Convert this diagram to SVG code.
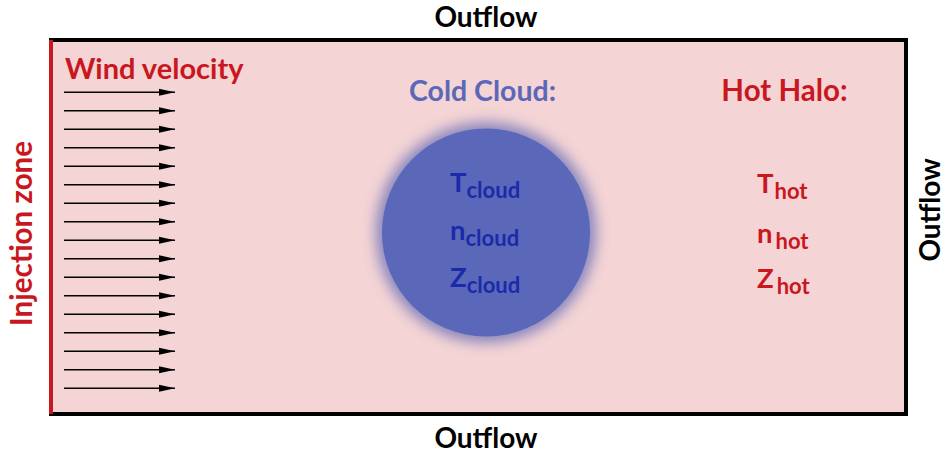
<svg xmlns="http://www.w3.org/2000/svg" width="944" height="453" viewBox="0 0 944 453">
<style>
text{font-family:Lato,"Open Sans","Liberation Sans",sans-serif;font-weight:bold}
.blk{fill:#000;font-size:28px}
.red{fill:#c8171e}
.blu{fill:#1a2aaa}
.var{font-size:27.5px}
.sub{font-size:22px}
.arr{stroke:#000;stroke-width:1.5;fill:none}
</style>
<defs>
<marker id="ah" markerWidth="16" markerHeight="8" refX="16" refY="4" orient="auto" markerUnits="userSpaceOnUse">
<path d="M0,0.5 L16,4 L0,7.5 Z" fill="#000"/>
</marker>
<filter id="glow" x="-30%" y="-30%" width="160%" height="160%">
<feGaussianBlur stdDeviation="7"/>
</filter>
</defs>
<g id="domain">
<rect x="51" y="40" width="855" height="374" fill="#f4d4d5"/>
<path d="M49,40 H906 V414 H49" fill="none" stroke="#000" stroke-width="4"/>
<line x1="51" y1="40" x2="51" y2="414" stroke="#c8171e" stroke-width="4"/>
</g>
<g id="labels">
<text class="blk" x="486" y="27" text-anchor="middle">Outflow</text>
<text class="blk" x="486" y="448" text-anchor="middle">Outflow</text>
<text class="blk" transform="translate(939.5,210) rotate(-90)" text-anchor="middle">Outflow</text>
<text class="red" font-size="29.5" transform="translate(32,233.5) rotate(-90)" text-anchor="middle">Injection zone</text>
<text class="red" font-size="29" x="65" y="79">Wind velocity</text>
</g>
<g id="wind">
<line class="arr" x1="64" y1="92.3" x2="175" y2="92.3" marker-end="url(#ah)"/>
<line class="arr" x1="64" y1="110.8" x2="175" y2="110.8" marker-end="url(#ah)"/>
<line class="arr" x1="64" y1="129.3" x2="175" y2="129.3" marker-end="url(#ah)"/>
<line class="arr" x1="64" y1="147.8" x2="175" y2="147.8" marker-end="url(#ah)"/>
<line class="arr" x1="64" y1="166.3" x2="175" y2="166.3" marker-end="url(#ah)"/>
<line class="arr" x1="64" y1="184.8" x2="175" y2="184.8" marker-end="url(#ah)"/>
<line class="arr" x1="64" y1="203.3" x2="175" y2="203.3" marker-end="url(#ah)"/>
<line class="arr" x1="64" y1="221.8" x2="175" y2="221.8" marker-end="url(#ah)"/>
<line class="arr" x1="64" y1="240.3" x2="175" y2="240.3" marker-end="url(#ah)"/>
<line class="arr" x1="64" y1="258.8" x2="175" y2="258.8" marker-end="url(#ah)"/>
<line class="arr" x1="64" y1="277.3" x2="175" y2="277.3" marker-end="url(#ah)"/>
<line class="arr" x1="64" y1="295.8" x2="175" y2="295.8" marker-end="url(#ah)"/>
<line class="arr" x1="64" y1="314.3" x2="175" y2="314.3" marker-end="url(#ah)"/>
<line class="arr" x1="64" y1="332.8" x2="175" y2="332.8" marker-end="url(#ah)"/>
<line class="arr" x1="64" y1="351.3" x2="175" y2="351.3" marker-end="url(#ah)"/>
<line class="arr" x1="64" y1="369.8" x2="175" y2="369.8" marker-end="url(#ah)"/>
<line class="arr" x1="64" y1="388.3" x2="175" y2="388.3" marker-end="url(#ah)"/>
</g>
<g id="cloud">
<text x="482.5" y="101" text-anchor="middle" font-size="28.5" fill="#5b67b8">Cold Cloud:</text>
<circle cx="486" cy="232.5" r="110" fill="#6b70b8" opacity="0.8" filter="url(#glow)"/>
<circle cx="486" cy="232.5" r="104" fill="#5b67b8"/>
<text class="blu var" x="450" y="192">T<tspan class="sub" dy="6">cloud</tspan></text>
<text class="blu var" x="450" y="240">n<tspan class="sub" dy="6">cloud</tspan></text>
<text class="blu var" x="450" y="287">Z<tspan class="sub" dy="6">cloud</tspan></text>
</g>
<g id="halo">
<text x="784.5" y="101" text-anchor="middle" font-size="29.5" class="red">Hot Halo:</text>
<text class="red var" x="757" y="193">T<tspan class="sub" dy="6" dx="1">hot</tspan></text>
<text class="red var" x="757" y="243">n<tspan class="sub" dy="6" dx="3">hot</tspan></text>
<text class="red var" x="757" y="288">Z<tspan class="sub" dy="6" dx="3">hot</tspan></text>
</g>
</svg>
